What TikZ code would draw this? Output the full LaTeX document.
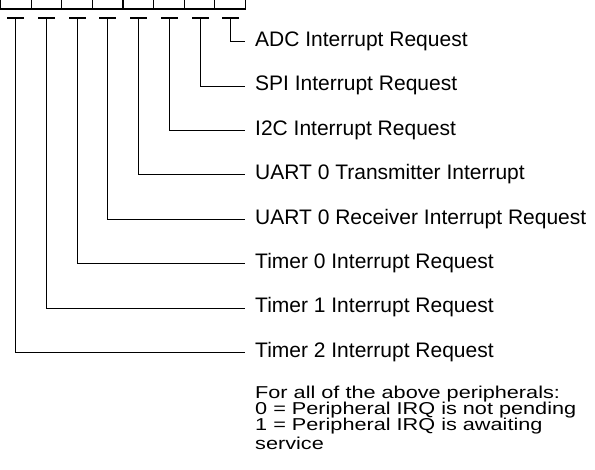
\documentclass[tikz,border=0pt]{standalone}
\usepackage{fontspec}
\setmainfont{Liberation Sans}
\newfontfamily\notefont[FakeStretch=1.26]{Liberation Sans}
\begin{document}
\begin{tikzpicture}[x=1pt,y=-1pt,
  wire/.style={line width=1.1pt,line cap=rect},
  lbl/.style={anchor=base west,inner sep=0pt,font=\fontsize{21}{24}\selectfont},
  note/.style={anchor=base west,inner sep=0pt,font=\notefont\fontsize{17.2}{19}\selectfont}]
\useasboundingbox (0,0) rectangle (595,470);
% register box (bottom row visible)
\draw[wire] (0.5,9) -- (245.5,9);
\foreach \k in {0,...,8}{
  \draw[wire] ({0.5+30.625*\k},0) -- ({0.5+30.625*\k},9);
}
% bit taps
\foreach \i/\txt in {0/Timer 2 Interrupt Request,
                     1/Timer 1 Interrupt Request,
                     2/Timer 0 Interrupt Request,
                     3/UART 0 Receiver Interrupt Request,
                     4/UART 0 Transmitter Interrupt,
                     5/I2C Interrupt Request,
                     6/SPI Interrupt Request,
                     7/ADC Interrupt Request}{
  \pgfmathsetmacro{\xx}{15.6+30.75*\i}
  \pgfmathsetmacro{\yy}{41.7+44.4*(7-\i)}
  \coordinate (top\i) at (\xx,18);
  \coordinate (end\i) at (244,\yy);
  \node[lbl] (lab\i) at (255,\yy+4.8) {\txt};
  \draw[wire] ([xshift=-8pt]top\i) -- ([xshift=8pt]top\i);
  \draw[wire] (top\i) |- (end\i);
}
\node[note] (note1) at (255,399) {For all of the above peripherals:};
\node[note] (note2) at (255,415) {0 = Peripheral IRQ is not pending};
\node[note] (note3) at (255,431) {1 = Peripheral IRQ is awaiting};
\node[note] (note4) at (255,450) {service};
\end{tikzpicture}
\end{document}
